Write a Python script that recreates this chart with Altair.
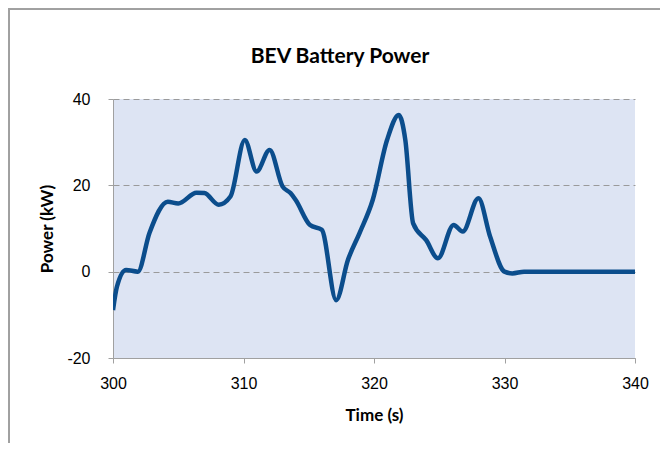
import altair as alt
import pandas as pd

time_s = [300.0, 300.3, 301.0, 301.9, 302.8, 304.2, 305.0, 306.4, 307.0, 308.1, 309.0,
          310.1, 311.0, 312.0, 313.0, 313.6, 314.0, 315.1, 316.0, 317.1, 318.0, 318.9,
          319.9, 321.0, 321.9, 322.4, 323.0, 324.0, 324.9, 326.1, 326.8, 328.0, 328.9,
          330.0, 330.6, 331.5, 335.0, 340.0]
power_kw = [-8.9, -3.5, 0.4, 0.0, 9.0, 16.2, 15.8, 18.3, 18.2, 15.5, 17.4,
            30.5, 23.2, 28.2, 19.7, 18.2, 16.6, 10.8, 9.7, -6.6, 2.7, 9.0,
            16.6, 30.5, 36.3, 30.5, 11.2, 7.3, 3.1, 10.8, 9.3, 17.0, 8.1,
            0.0, -0.4, 0.0, 0.0, 0.0]

x_ticks = [300, 310, 320, 330, 340]
y_ticks = [-20, 0, 20, 40]
chart_title = "BEV Battery Power"

df = pd.DataFrame({"t": time_s, "p": power_kw})

label_font = "Liberation Sans Narrow, Liberation Sans, Arial"
title_font = "Lato"

line = alt.Chart(df).mark_line(
    interpolate="monotone", color="#0b4d8c", strokeWidth=4.5, clip=True
).encode(
    x=alt.X("t:Q", scale=alt.Scale(domain=[300, 340], nice=False),
            axis=alt.Axis(values=x_ticks, title="Time (s)", grid=False, labelFlush=False,
                          domainColor="#a0a0a0", tickColor="#a0a0a0", tickSize=5,
                          labelFont=label_font, labelFontSize=16, labelColor="#000000",
                          labelPadding=12, titleFont=title_font, titleFontSize=17,
                          titleFontWeight="bold", titleColor="#000000", titlePadding=16)),
    y=alt.Y("p:Q", scale=alt.Scale(domain=[-20, 40], nice=False),
            axis=alt.Axis(values=y_ticks, title="Power (kW)", grid=True,
                          labelExpr="replace(datum.label, '−', '-')",
                          gridColor="#9a9a9a", gridDash=[6, 4], gridWidth=1,
                          domainColor="#a0a0a0", tickColor="#a0a0a0", tickSize=5,
                          labelFont=label_font, labelFontSize=16, labelColor="#000000",
                          labelPadding=18, titleFont=title_font, titleFontSize=17,
                          titleFontWeight="bold", titleColor="#000000", titlePadding=10)),
)

title_text = alt.Chart(df).transform_aggregate(n="count()").mark_text(
    text=chart_title, font=title_font, fontSize=21, fontWeight="bold", color="#000000",
    align="center", baseline="alphabetic", clip=False
).encode(x=alt.value(227), y=alt.value(-36))

frame_left = alt.Chart(df).mark_rule(color="#a0a0a0", strokeWidth=1, clip=False).encode(
    x=alt.value(-104), y=alt.value(-91), y2=alt.value(400)
)
frame_top = alt.Chart(df).mark_rule(color="#a0a0a0", strokeWidth=1, clip=False).encode(
    x=alt.value(-104), x2=alt.value(550), y=alt.value(-90)
)

chart = alt.layer(line, title_text, frame_left, frame_top).properties(
    width=522,
    height=259,
    padding={"left": 105, "top": 91, "right": 25, "bottom": 85},
    autosize=alt.AutoSizeParams(type="none"),
).configure(background="#ffffff").configure_view(fill="#dde4f3", stroke=None)

chart.save("out.html", embed_options={"renderer": "svg", "actions": False})
